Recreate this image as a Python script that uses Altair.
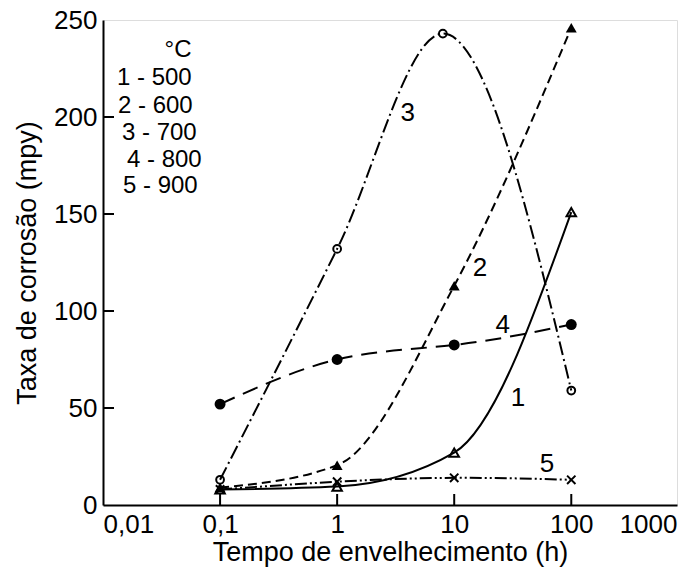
import altair as alt
import pandas as pd

# ---- data ----
TIMES = [0.1, 1, 10, 100]
S1_Y = [8, 9.5, 27, 151]        # 500 °C, open triangle, solid
S2_Y = [9, 20.5, 113, 246]      # 600 °C, filled triangle, dashed
S3_X = [0.1, 1, 8, 100]
S3_Y = [13, 132, 243, 59]       # 700 °C, open circle, dash-dot
S4_Y = [52, 75, 82.5, 93]       # 800 °C, filled circle, long dash
S5_Y = [8, 12, 14, 13]          # 900 °C, cross, dash-dot-dot

LINE_LABELS = ["3", "2", "4", "1", "5"]
LINE_LABEL_X = [4.0, 16.6, 26, 35, 62]
LINE_LABEL_Y = [202, 122, 93, 55, 21]

LEGEND_LINES = ["°C", "1 - 500", "2 - 600", "3 - 700", "4 - 800", "5 - 900"]

X_TICKS = [0.01, 0.1, 1, 10, 100, 800]
X_TICK_LABELS = ["0,01", "0,1", "1", "10", "100", "1000"]
X_INNER_TICKS = [0.1, 1, 10, 100]
Y_TICKS = [0, 50, 100, 150, 200, 250]
Y_INNER_TICKS = [50, 100, 150, 200]

W, H = 574, 485
FONT = "Liberation Sans"

label_expr = ""
for v, l in zip(X_TICKS, X_TICK_LABELS):
    label_expr += f"datum.value == {v} ? '{l}' : "
label_expr += "datum.label"

xscale = alt.Scale(type="log", domain=[0.01, 800], nice=False)
yscale = alt.Scale(domain=[0, 250], nice=False, zero=True)

xaxis = alt.Axis(values=X_TICKS, labelExpr=label_expr, labelFlush=True,
                 ticks=False, grid=False, labelFontSize=26, labelFont=FONT,
                 labelColor="black", labelPadding=6, domainColor="black",
                 domainWidth=2, title="Tempo de envelhecimento (h)",
                 titleFontSize=27, titleFont=FONT, titleFontWeight="normal",
                 titleColor="black", titlePadding=2)
yaxis = alt.Axis(values=Y_TICKS, ticks=False, grid=False, labelFontSize=26,
                 labelFont=FONT, labelColor="black", labelPadding=6,
                 domainColor="black", domainWidth=2,
                 title="Taxa de corrosão (mpy)", titleFontSize=27,
                 titleFont=FONT, titleFontWeight="normal", titleColor="black",
                 titlePadding=12)

def df(xs, ys):
    return pd.DataFrame({"x": xs, "y": ys})

def line(data, dash, interp="natural"):
    kw = {}
    if dash:
        kw["strokeDash"] = dash
    return alt.Chart(data).mark_line(color="black", strokeWidth=2,
                                     interpolate=interp, **kw).encode(
        x=alt.X("x:Q", scale=xscale, axis=xaxis),
        y=alt.Y("y:Q", scale=yscale, axis=yaxis))

def pts(data, shape, filled, size, sw=2):
    return alt.Chart(data).mark_point(shape=shape, filled=filled, size=size,
                                      color="black", strokeWidth=sw,
                                      opacity=1, fillOpacity=1).encode(
        x=alt.X("x:Q", scale=xscale), y=alt.Y("y:Q", scale=yscale))

d1 = df(TIMES, S1_Y)
d2 = df(TIMES, S2_Y)
d3 = df(S3_X, S3_Y)
d4 = df(TIMES, S4_Y)
d5 = df(TIMES, S5_Y)

layers = [
    line(d1, None, "monotone"),
    line(d2, [9, 5], "monotone"),
    line(d3, [14, 4, 2, 4], "monotone"),
    line(d4, [16, 9], "natural"),
    line(d5, [12, 3, 2, 3, 2, 3], "natural"),
    pts(d3, "circle", False, 60),
    pts(d4, "circle", True, 120),
    pts(d1, "triangle-up", False, 90),
    pts(d2, "triangle-up", True, 120),
    pts(d5, "M-1,-1L1,1M-1,1L1,-1", False, 70),
]

# inner ticks
tx = alt.Chart(pd.DataFrame({"x": X_INNER_TICKS})).mark_rule(
    color="black", strokeWidth=2).encode(
    x=alt.X("x:Q", scale=xscale), y=alt.value(H), y2=alt.value(H - 11))
ty = alt.Chart(pd.DataFrame({"y": Y_INNER_TICKS})).mark_rule(
    color="black", strokeWidth=2).encode(
    y=alt.Y("y:Q", scale=yscale), x=alt.value(0), x2=alt.value(11))
layers += [tx, ty]

# curve labels
lab = alt.Chart(pd.DataFrame({"x": LINE_LABEL_X, "y": LINE_LABEL_Y,
                              "t": LINE_LABELS})).mark_text(
    font=FONT, fontSize=26, color="black").encode(
    x=alt.X("x:Q", scale=xscale), y=alt.Y("y:Q", scale=yscale), text="t:N")
layers.append(lab)

# legend text block
leg_x = [75, 14, 15, 19, 24, 20]
leg_y = [30, 58, 86, 113, 140, 166]
for i, t in enumerate(LEGEND_LINES):
    align = "center" if i == 0 else "left"
    layers.append(alt.Chart(pd.DataFrame({"t": [t]})).mark_text(
        font=FONT, fontSize=24, color="black", align=align,
        baseline="middle").encode(
        x=alt.value(leg_x[i]), y=alt.value(leg_y[i]), text="t:N"))

chart = alt.layer(*layers).properties(
    width=W, height=H,
    autosize=alt.AutoSizeParams(type="none"),
    padding={"left": 103, "top": 20, "right": 9, "bottom": 65},
).configure_view(stroke="black", strokeWidth=2).configure(background="white")

chart.save("out.html", embed_options={"renderer": "svg", "actions": False})
